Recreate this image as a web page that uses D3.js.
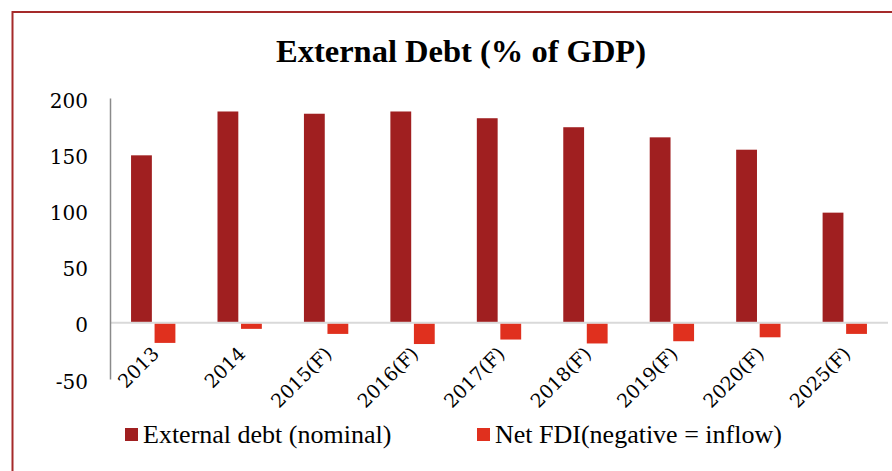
<!DOCTYPE html>
<html>
<head>
<meta charset="utf-8">
<script src="https://cdn.jsdelivr.net/npm/d3@7"></script>
<style>
  html, body { margin: 0; padding: 0; background: #fff; }
  svg { display: block; }
</style>
</head>
<body>
<svg id="chart" width="892" height="471"></svg>
<script>
// External debt vs. net FDI, % of GDP
const categories = ["2013", "2014", "2015(F)", "2016(F)", "2017(F)", "2018(F)", "2019(F)", "2020(F)", "2025(F)"];
const externalDebt = [149, 188, 186, 188, 182, 174, 165, 154, 98];
const netFDI = [-17, -4.5, -9, -18, -14, -17.5, -15.5, -12, -9];
const seriesNames = ["External debt (nominal)", "Net FDI(negative = inflow)"];
const seriesColors = ["#a01f20", "#e0301e"];
const yTicks = [-50, 0, 50, 100, 150, 200];

const svg = d3.select("#chart");

// Frame around the chart
svg.append("rect")
  .attr("x", 12.5).attr("y", 12)
  .attr("width", 900).attr("height", 480)
  .attr("fill", "#fff")
  .attr("stroke", "#a52a2a")
  .attr("stroke-width", 2);

// Title
svg.append("text")
  .attr("x", 461).attr("y", 62)
  .attr("text-anchor", "middle")
  .attr("font-family", "'Liberation Serif', serif")
  .attr("font-weight", "bold")
  .attr("font-size", 32.5)
  .attr("fill", "#000")
  .text("External Debt (% of GDP)");

const plot = { left: 110, right: 888, top: 98, bottom: 379 };

const x = d3.scaleBand()
  .domain(categories)
  .range([plot.left, plot.right])
  .paddingInner(0).paddingOuter(0);

const y = d3.scaleLinear()
  .domain([-50, 200])
  .range([plot.bottom, plot.top]);

// Bars within each category group
const groupW = x.bandwidth() * 0.513;
const x1 = d3.scaleBand()
  .domain([0, 1])
  .range([0, groupW])
  .paddingInner(0.115);

const rows = categories.map((c, i) => ({ cat: c, vals: [externalDebt[i], netFDI[i]] }));

// Zero line
svg.append("line")
  .attr("x1", plot.left).attr("x2", plot.right)
  .attr("y1", y(0)).attr("y2", y(0))
  .attr("stroke", "#d9d9d9")
  .attr("stroke-width", 2);

const groups = svg.append("g").selectAll("g")
  .data(rows).join("g")
  .attr("transform", d => `translate(${x(d.cat) + (x.bandwidth() - groupW) / 2},0)`);

groups.selectAll("rect")
  .data(d => d.vals.map((v, k) => ({ v, k })))
  .join("rect")
  .attr("x", d => x1(d.k))
  .attr("width", x1.bandwidth())
  .attr("y", d => d.v >= 0 ? y(d.v) : y(0) + 1)
  .attr("height", d => Math.abs(y(d.v) - y(0)) - (d.v >= 0 ? 1 : 0))
  .attr("fill", d => seriesColors[d.k]);

// Y axis (plain hyphen for negatives)
const yAxis = d3.axisLeft(y)
  .tickValues(yTicks)
  .tickFormat(d => String(d))
  .tickSize(0)
  .tickPadding(22);
const yG = svg.append("g")
  .attr("transform", `translate(${plot.left},0)`)
  .call(yAxis);
yG.select(".domain").attr("stroke", "#8a8a8a").attr("stroke-width", 1.5);
yG.selectAll("text")
  .attr("font-family", "'DejaVu Serif', serif")
  .attr("font-size", 20)
  .attr("fill", "#000")
  .attr("dy", "0.45em");

// X labels, rotated
svg.append("g").selectAll("text")
  .data(categories).join("text")
  .attr("transform", d => `translate(${x(d) + x.bandwidth() / 2 + 7},355) rotate(-45)`)
  .attr("text-anchor", "end")
  .attr("font-family", "'DejaVu Serif', serif")
  .attr("font-size", 19)
  .attr("fill", "#000")
  .text(d => d);

// Legend
const legendX = [125, 477];
const legend = svg.append("g").selectAll("g")
  .data(seriesNames).join("g")
  .attr("transform", (d, i) => `translate(${legendX[i]},428)`);
legend.append("rect")
  .attr("width", 13).attr("height", 13)
  .attr("fill", (d, i) => seriesColors[i]);
legend.append("text")
  .attr("x", 18).attr("y", 15)
  .attr("font-family", "'Liberation Serif', serif")
  .attr("font-size", 26)
  .attr("fill", "#000")
  .text(d => d);
</script>
</body>
</html>
